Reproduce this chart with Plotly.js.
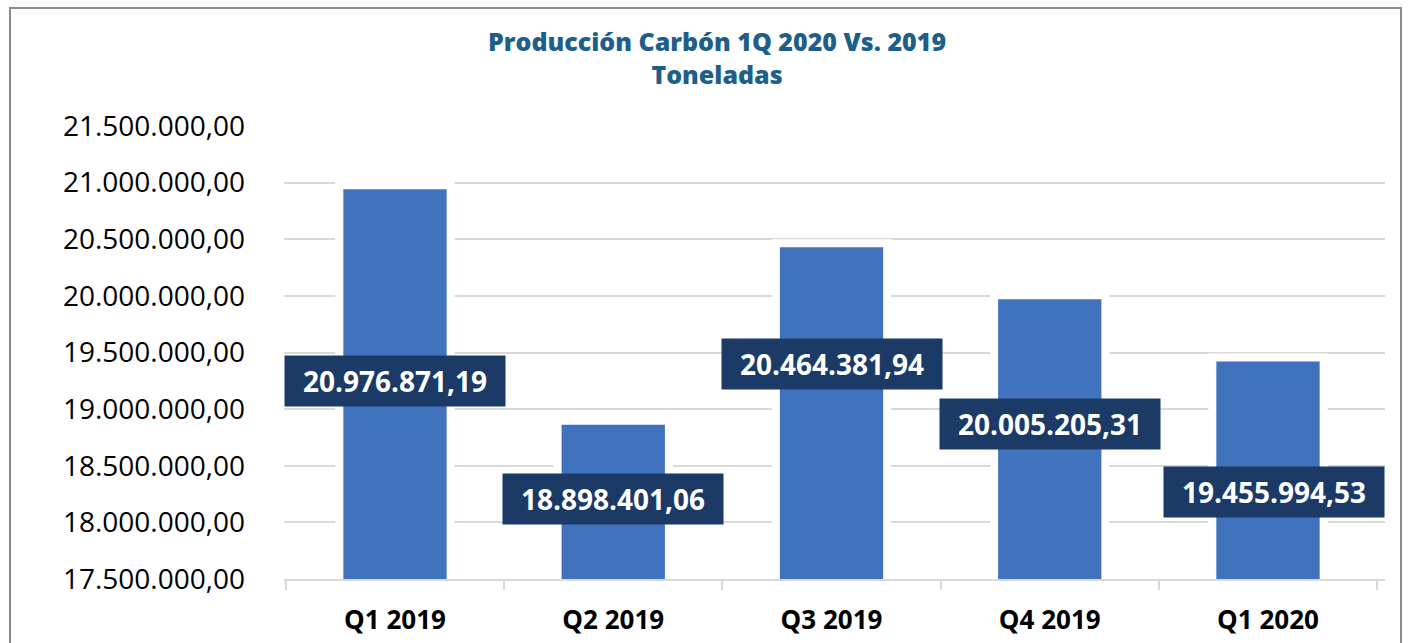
<!DOCTYPE html>
<html>
<head>
<meta charset="utf-8">
<script src="https://cdn.plot.ly/plotly-3.0.1.min.js"></script>
<style>html,body{margin:0;padding:0;background:#fff;}#chart{width:1416px;height:643px;}</style>
</head>
<body>
<div id="chart"></div>
<script>
const categories = ['Q1 2019', 'Q2 2019', 'Q3 2019', 'Q4 2019', 'Q1 2020'];
const values = [20976871.19, 18898401.06, 20464381.94, 20005205.31, 19455994.53];
const labelTexts = ['20.976.871,19', '18.898.401,06', '20.464.381,94', '20.005.205,31', '19.455.994,53'];

// layout-only: where the value boxes sit (data units) and small pixel nudges
const labelY = [19245000, 18210000, 19395000, 18870000, 18270000];
const labelXShift = [0, 0, 0, 0, 6];

const trace = {
  type: 'bar',
  x: categories,
  y: values,
  marker: {color: '#4072BE', line: {color: '#ffffff', width: 8}},
  hoverinfo: 'skip'
};

const annotations = categories.map((c, i) => ({
  x: c, y: labelY[i], xref: 'x', yref: 'y',
  text: labelTexts[i], showarrow: false,
  xshift: labelXShift[i],
  font: {family: 'Open Sans, sans-serif', size: 28, color: '#ffffff', weight: 'bold'},
  bgcolor: '#1B3A66', width: 220, height: 50, align: 'center', valign: 'middle',
  borderpad: 0
}));

const layout = {
  width: 1416, height: 643,
  margin: {l: 284, r: 31, t: 126, b: 64},
  paper_bgcolor: '#ffffff', plot_bgcolor: '#ffffff',
  separators: ',.',
  showlegend: false,
  bargap: 0.49,
  title: {
    text: 'Producción Carbón 1Q 2020 Vs. 2019<br>Toneladas',
    font: {family: 'Open Sans, sans-serif', size: 25, color: '#1D5F8A', weight: 800},
    x: 717 / 1416, xref: 'container', xanchor: 'center',
    y: 1 - 51 / 643, yref: 'container', yanchor: 'middle'
  },
  xaxis: {
    type: 'category',
    showline: true, linecolor: '#D9D9D9', linewidth: 2,
    ticks: 'outside', tickson: 'boundaries', ticklen: 9, tickcolor: '#D9D9D9', tickwidth: 2,
    ticklabelstandoff: 17,
    tickfont: {family: 'Open Sans, sans-serif', size: 26, color: '#000000', weight: 'bold'},
    showgrid: false, fixedrange: true
  },
  yaxis: {
    range: [17500000, 21500000],
    dtick: 500000, tick0: 17500000,
    tickformat: ',.2f',
    showgrid: true, gridcolor: '#D9D9D9', gridwidth: 2,
    zeroline: false, showline: false, ticks: '',
    ticklabelstandoff: 38,
    tickfont: {family: 'Open Sans, sans-serif', size: 28, color: '#000000'},
    fixedrange: true
  },
  annotations: annotations,
  shapes: [{
    type: 'rect', xref: 'paper', yref: 'paper',
    x0: (10 - 284) / 1101, x1: (1401 - 284) / 1101,
    y0: (579 - 660) / 453, y1: (579 - 8) / 453,
    line: {color: '#8C8C8C', width: 2}, fillcolor: 'rgba(0,0,0,0)', layer: 'below'
  }]
};

Plotly.newPlot('chart', [trace], layout, {displayModeBar: false, staticPlot: true});
</script>
</body>
</html>
